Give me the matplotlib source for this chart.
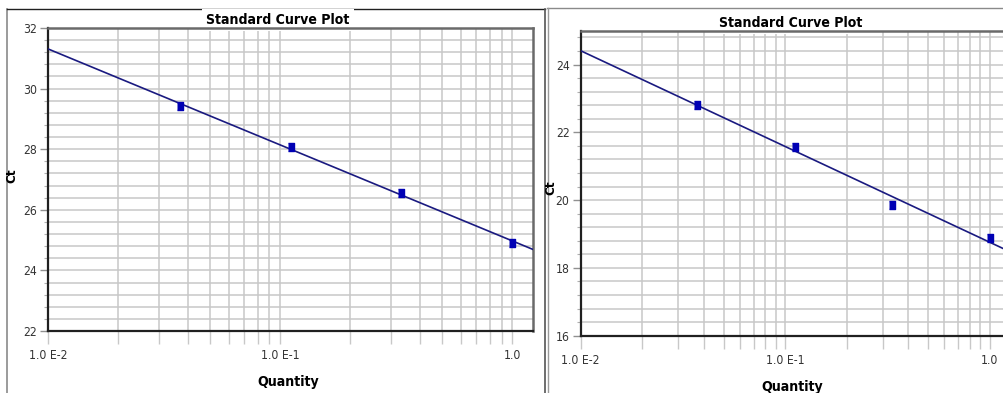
import numpy as np
import matplotlib
matplotlib.use("Agg")
import matplotlib.pyplot as plt
from matplotlib import font_manager as fm
from matplotlib.ticker import LogLocator, MultipleLocator, FixedLocator, FixedFormatter, NullFormatter
from matplotlib.lines import Line2D

# the original uses a narrow Arial-like face; take the narrowest one installed
_fonts = fm.fontManager.ttflist
_names = {f.name for f in _fonts}
if "Liberation Sans Narrow" in _names:
    plt.rcParams["font.family"] = ["Liberation Sans Narrow", "DejaVu Sans"]
    SCALE = 1.0
elif any(f.name == "DejaVu Sans" and f.stretch == "condensed" for f in _fonts):
    plt.rcParams["font.family"] = ["DejaVu Sans"]
    plt.rcParams["font.stretch"] = "condensed"
    SCALE = 0.92
else:
    plt.rcParams["font.family"] = ["Liberation Sans", "DejaVu Sans"]
    SCALE = 0.9

quantity = [1 / 27, 1 / 9, 1 / 3, 1.0]
ct_left = [29.43, 28.08, 26.56, 24.90]
ct_right = [22.80, 21.58, 19.86, 18.88]

ylim_left = (22, 32)
ylim_right = (16, 25)
xlim = (0.01, 1.23)

xtick_vals = [0.01, 0.1, 1.0]
xtick_labels = ["1.0 E-2", "1.0 E-1", "1.0"]

GRID = "#c8c8c8"
LINE = "#1a1a80"
MARK = "#0000b4"


def draw_panel(ax, ct, ylim, title_xy, ylabel_xy, xlabel_xy):
    ax.set_xscale("log")
    ax.set_xlim(*xlim)
    ax.set_ylim(*ylim)

    ax.xaxis.set_major_locator(FixedLocator(xtick_vals))
    ax.xaxis.set_major_formatter(FixedFormatter(xtick_labels))
    ax.xaxis.set_minor_locator(LogLocator(base=10, subs=np.arange(2, 10)))
    ax.xaxis.set_minor_formatter(NullFormatter())
    ax.yaxis.set_major_locator(MultipleLocator(2))
    ax.yaxis.set_minor_locator(MultipleLocator(0.4))

    ax.grid(True, which="both", color=GRID, lw=1.1)
    ax.set_axisbelow(True)

    ax.tick_params(axis="x", which="both", direction="out", length=9, width=1.0,
                   color=GRID, pad=4, labelsize=9.5 * SCALE, labelcolor="#333333")
    ax.tick_params(axis="y", which="major", direction="out", length=6, width=1.0,
                   color="#909090", pad=2, labelsize=9.5 * SCALE, labelcolor="#333333")
    ax.tick_params(axis="y", which="minor", direction="out", length=3, width=0.8,
                   color="#b0b0b0")

    for side in ("left", "bottom"):
        ax.spines[side].set_color("#202020")
        ax.spines[side].set_linewidth(1.6)
    for side in ("top", "right"):
        ax.spines[side].set_color("#6a6a6a")
        ax.spines[side].set_linewidth(1.8)

    # standard curve: least squares fit of Ct on log10(quantity)
    slope, icpt = np.polyfit(np.log10(quantity), ct, 1)
    xs = np.array(xlim)
    ax.plot(xs, slope * np.log10(xs) + icpt, color=LINE, lw=1.2, zorder=3)
    rect = [(-0.33, -0.5), (0.33, -0.5), (0.33, 0.5), (-0.33, 0.5)]
    ax.plot(quantity, ct, ls="none", marker=rect, ms=6, color=MARK, mec=MARK, zorder=4)

    # white box hides the outer frame line, but stays under the axes spines
    ax.text(title_xy[0], title_xy[1], "Standard Curve Plot", transform=ax.transAxes,
            ha="center", va="baseline", fontsize=11 * SCALE, fontweight="bold",
            bbox=dict(facecolor="white", edgecolor="none", pad=3), zorder=2.4)
    ax.set_ylabel("Ct", fontsize=10.5 * SCALE, fontweight="bold")
    ax.yaxis.set_label_coords(*ylabel_xy)
    ax.set_xlabel("Quantity", fontsize=11 * SCALE, fontweight="bold")
    ax.xaxis.set_label_coords(*xlabel_xy)


fig = plt.figure(figsize=(10.04, 3.93), dpi=100)
W, H = 1004, 393

ax1 = fig.add_axes([48 / W, (H - 331) / H, 485 / W, 303 / H])
draw_panel(ax1, ct_left, ylim_left, (0.474, 1.013), (-0.062, 0.512), (0.495, -0.145))

ax2 = fig.add_axes([580.7 / W, (H - 335.7) / H, 427.4 / W, 305 / H])
draw_panel(ax2, ct_right, ylim_right, (0.492, 1.012), (-0.055, 0.484), (0.494, -0.145))

# screenshot frames around the two panels
frame = [
    ((7, 7), (9, H), "#8a8a8a", 1.2),
    ((7, 545), (9, 9), "#202020", 1.0),
    ((545, 545), (9, H), "#555555", 1.2),
    ((547, W), (8, 8), "#8a8a8a", 1.0),
    ((548, 548), (8, H), "#9a9a9a", 1.0),
]
for xs, ys, c, lw in frame:
    fig.add_artist(Line2D([x / W for x in xs], [1 - y / H for y in ys], color=c, lw=lw, zorder=0))

fig.savefig("out.png", dpi=100)
